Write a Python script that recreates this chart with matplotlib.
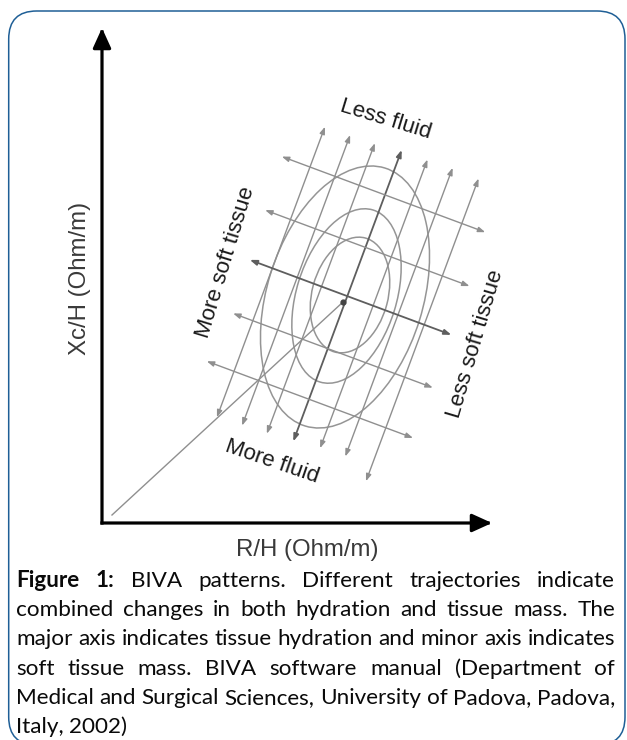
import matplotlib
matplotlib.use('Agg')
import matplotlib.pyplot as plt
from matplotlib.patches import Ellipse, FancyArrowPatch, FancyBboxPatch
from matplotlib.transforms import Affine2D

W, H = 627, 740

# Axes of the diagram (pixel coords, y up)
origin = (102, 217)
x_axis_end = 492
y_axis_end = 712

# Centre of the grid and its tilt
center = (343, 438)
grid_angle = -20.4

# "Fluid" arrows, along the major axis (local u/v frame)
fluid_u = [-78, -51.5, -25.5, 2, 29.5, 56, 84]
fluid_v_top = [158, 159, 160, 163, 163, 164, 163]
fluid_v_bottom = [-152, -151, -150, -148, -145, -144, -160]

# "Soft tissue" arrows, along the minor axis
tissue_v = [115, 59, 7, -49, -103]
tissue_u_left = [-108, -105, -102, -99, -107]
tissue_u_right = [109, 113, 113, 114, 113]

# Tolerance ellipses
ell_cx = [345, 346.5, 350]
ell_cy = [443, 444, 445]
ell_major = [270, 180, 118]
ell_minor = [156, 100, 76]
ell_angle = [72.8, 72.8, 75]

# Line from origin to the mean vector
trend_start = (112, 225)

labels = ['Less fluid', 'More fluid', 'More soft tissue', 'Less soft tissue']
label_x = [386, 272, 226, 476]
label_y = [620, 278, 478, 396]
label_rot = [-17, -19, 73, 73.5]

caption_lines = [
    "Figure 1: BIVA patterns. Different trajectories indicate",
    "combined changes in both hydration and tissue mass. The",
    "major axis indicates tissue hydration and minor axis indicates",
    "soft tissue mass. BIVA software manual (Department of",
    "Medical and Surgical Sciences, University of Padova, Padova,",
    "Italy, 2002)",
]
caption_bold = ["Figure", "1:"]
caption_centers = [581, 610.2, 639.4, 668.6, 697.8, 727]  # y from top

fig = plt.figure(figsize=(W / 100, H / 100), dpi=100)
ax = fig.add_axes([0, 0, 1, 1])
ax.set_xlim(0, W)
ax.set_ylim(0, H)
ax.axis('off')

# Rounded frame
frame = FancyBboxPatch((8.7, -5), 616.3, 734, boxstyle='round,pad=0,rounding_size=28',
                       fc='none', ec='#1f5f96', lw=1.1)
ax.add_patch(frame)

# Axes arrows
head = '-|>,head_length=0.55,head_width=0.25'
for end in [(origin[0], y_axis_end), (x_axis_end, origin[1])]:
    ax.add_patch(FancyArrowPatch(origin, end, arrowstyle=head, mutation_scale=22,
                                 lw=2.3, color='black', shrinkA=0, shrinkB=0,
                                 capstyle='projecting'))

ax.text(80, 462, 'Xc/H (Ohm/m)', rotation=90, ha='center', va='center',
        fontsize=17.3, family='Liberation Sans', color='#3a3a3a')
ax.text(307, 190, 'R/H (Ohm/m)', ha='center', va='center',
        fontsize=17.3, family='Liberation Sans', color='#3a3a3a')

# Ellipses
for cx, cy, a, b, ang in zip(ell_cx, ell_cy, ell_major, ell_minor, ell_angle):
    ax.add_patch(Ellipse((cx, cy), a, b, angle=ang, fc='none', ec='#959595', lw=1.1))

# Grid of arrows in rotated frame
tr = Affine2D().rotate_deg(grid_angle).translate(*center) + ax.transData
small = '<|-|>,head_length=0.6,head_width=0.22'
for i, (u, v0, v1) in enumerate(zip(fluid_u, fluid_v_bottom, fluid_v_top)):
    dark = i == 3
    ax.add_patch(FancyArrowPatch((u, v0), (u, v1), transform=tr, arrowstyle=small,
                                 mutation_scale=7, lw=1.3 if dark else 1.0,
                                 color='#5e5e5e' if dark else '#8f8f8f',
                                 shrinkA=0, shrinkB=0))
for i, (v, u0, u1) in enumerate(zip(tissue_v, tissue_u_left, tissue_u_right)):
    dark = i == 2
    ax.add_patch(FancyArrowPatch((u0, v), (u1, v), transform=tr, arrowstyle=small,
                                 mutation_scale=7, lw=1.3 if dark else 1.0,
                                 color='#5e5e5e' if dark else '#8f8f8f',
                                 shrinkA=0, shrinkB=0))

ax.plot([trend_start[0], center[0]], [trend_start[1], center[1]],
        color='#8f8f8f', lw=1.0)
ax.plot(center[0], center[1], 'o', ms=3.5, color='#444444')

for s, x, y, r in zip(labels, label_x, label_y, label_rot):
    ax.text(x, y, s, rotation=r, ha='center', va='center', fontsize=16,
            family='Liberation Sans', color='#1a1a1a', rotation_mode='anchor')

# Caption, justified by hand
renderer = fig.canvas.get_renderer()


def width_of(s, **kw):
    t = ax.text(0, 0, s, **kw)
    w = t.get_window_extent(renderer).width
    t.remove()
    return w


cap_font = 'Lato'
left, right = 16, 615
fs = 10 * (right - left) / width_of(caption_lines[2], fontsize=10, family=cap_font)

for n, (line, yc) in enumerate(zip(caption_lines, caption_centers)):
    words = line.split()
    styles = [dict(fontsize=fs, family=cap_font,
                   weight='bold' if (n == 0 and w in caption_bold) else 'normal')
              for w in words]
    widths = [width_of(w, **st) for w, st in zip(words, styles)]
    if n == len(caption_lines) - 1:
        gap = width_of('a b', fontsize=fs, family=cap_font) - width_of('ab', fontsize=fs, family=cap_font)
    else:
        gap = (right - left - sum(widths)) / (len(words) - 1)
    x = left
    for w, st, wd in zip(words, styles, widths):
        ax.text(x, H - yc - 6, w, ha='left', va='baseline', color='#0a0a0a', **st)
        x += wd + gap

fig.savefig('out.png', dpi=100)
